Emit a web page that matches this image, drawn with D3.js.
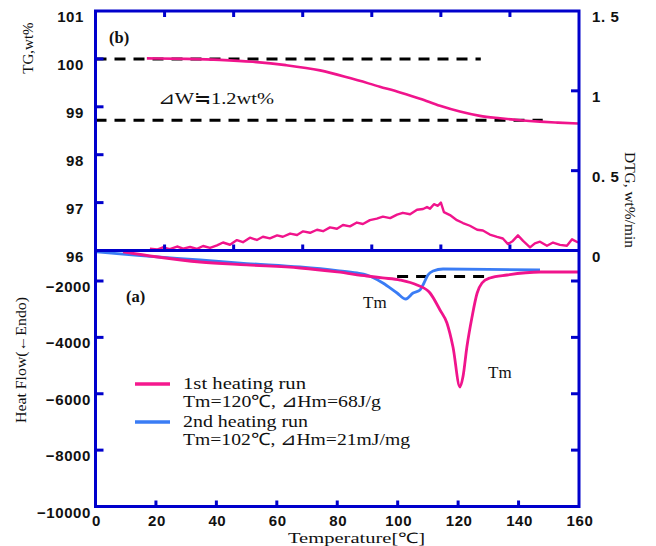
<!DOCTYPE html>
<html>
<head>
<meta charset="utf-8">
<script src="https://cdn.jsdelivr.net/npm/d3@7"></script>
<style>
  body { margin: 0; background: #fff; }
  .tick-label { font-family: "Liberation Sans", Arial, sans-serif; font-weight: bold; font-size: 15px; letter-spacing: 0.6px; fill: #111; }
  .serif { font-family: "Liberation Serif", "Times New Roman", serif; fill: #111; }
</style>
</head>
<body>
<div id="vis"></div>
<script>
// ---- data (temperature in degC on the shared bottom scale) ----
const tgTemp = [17, 30, 41.2, 52.1, 63, 74.3, 84.2, 94.1, 100.8, 107.4, 114.0, 120.6, 127.2, 133.9, 140.5, 147.1, 153, 159.7];
const tgValue = [100.01, 100.0, 99.98, 99.94, 99.87, 99.76, 99.60, 99.42, 99.30, 99.17, 99.02, 98.90, 98.81, 98.76, 98.72, 98.69, 98.67, 98.65];

const dtgTemp = [18.0, 20.4, 22.3, 24.6, 27.0, 29.0, 31.3, 33.6, 35.6, 37.9, 40.2, 42.2, 44.5, 46.8, 48.8, 51.1, 53.4, 55.4, 57.7, 60.1,
  62.0, 64.4, 66.7, 68.7, 71.0, 73.3, 75.3, 77.6, 79.9, 81.9, 84.2, 86.5, 88.5, 90.8, 93.1, 95.1, 97.5, 99.8, 101.7, 104.1,
  106.4, 108.4, 109.7, 110.7, 112.0, 113.3, 114.3, 115.3, 117.3, 119.6, 121.6, 123.9, 126.3, 128.2, 130.5, 132.9, 134.8, 136.5, 138.1, 139.8,
  141.5, 143.8, 145.4, 147.1, 149.4, 151.4, 153.7, 156.0, 157.7, 159.7];
const dtgValue = [0.012, 0.006, 0.02, 0.008, 0.025, 0.012, 0.022, 0.01, 0.028, 0.016, 0.032, 0.05, 0.036, 0.065, 0.052, 0.08, 0.066, 0.086, 0.076, 0.095,
  0.086, 0.106, 0.097, 0.12, 0.111, 0.13, 0.121, 0.145, 0.136, 0.16, 0.151, 0.175, 0.166, 0.19, 0.2, 0.212, 0.203, 0.225, 0.236, 0.227,
  0.255, 0.26, 0.272, 0.262, 0.29, 0.28, 0.30, 0.24, 0.222, 0.19, 0.172, 0.155, 0.13, 0.125, 0.1, 0.085, 0.075, 0.04, 0.06, 0.095,
  0.06, 0.02, 0.045, 0.055, 0.03, 0.05, 0.035, 0.03, 0.07, 0.05];

const hf1Temp = [9.1, 20, 34.6, 50, 67.7, 80, 89.8, 95, 100.8, 106.4, 110.7, 114.0, 116.3, 118.3, 120.6, 121.6, 122.9, 124.6, 126.3, 127.9, 130.5, 136.2, 147.1, 160];
const hf1Value = [-970, -1140, -1326, -1430, -1539, -1680, -1823, -1890, -1965, -2142, -2426, -3028, -3490, -4340, -5760, -5400, -4340, -3277, -2426, -2071, -1894, -1787, -1681, -1681];

const hf2Temp = [0.5, 15, 34.6, 50, 67.7, 80, 86.5, 89.8, 95.1, 99.8, 102.7, 105.1, 107.4, 108.7, 110.0, 111.7, 115.0, 130, 147.1];
const hf2Value = [-970, -1100, -1255, -1380, -1504, -1630, -1716, -1787, -2071, -2426, -2638, -2426, -2319, -2071, -1787, -1645, -1574, -1585, -1610];

const tgGuides = [{ y: 100.0, x1: 0, x2: 127.5 }, { y: 98.72, x1: 0, x2: 148 }];
const hfGuide = { y: -1840, x1: 99.8, x2: 128.9 };

const xTicks = [0, 20, 40, 60, 80, 100, 120, 140, 160];
const tgTicks = [96, 97, 98, 99, 100, 101];
const dtgTicks = [0, 0.5, 1, 1.5];
const dtgTickText = ["0", "0. 5", "1", "1. 5"];
const hfTicks = [-10000, -8000, -6000, -4000, -2000];

const legendItems = [
  { color: "#f5198e", lines: ["1st heating run", "Tm=120\u2103, \u22BFHm=68J/g"], widths: [123, 198] },
  { color: "#3a7cf5", lines: ["2nd heating run", "Tm=102\u2103, \u22BFHm=21mJ/mg"], widths: [125, 227] }
];

// ---- layout ----
const width = 656, height = 546;
const pLeft = 95.5, pRight = 579, pTop = 11, pMid = 250.5, pBottom = 506.5;
const frameColor = "#0000cc";
const pink = "#f0148c", blue = "#3a7cf5";

const svg = d3.select("#vis").append("svg")
  .attr("width", width)
  .attr("height", height);

const x = d3.scaleLinear().domain([0, 160]).range([pLeft, pRight]);
const topTickX = d3.scaleLinear().domain([0, 140]).range([pLeft, pRight]);
const tgY = d3.scaleLinear().domain([96, 101]).range([pMid, pTop]);
const dtgY = d3.scaleLinear().domain([0, 1.5]).range([pMid, pTop]);
const hfY = d3.scaleLinear().domain([-10000, -2000]).range([pBottom, 281]);

// clip paths
const defs = svg.append("defs");
defs.append("clipPath").attr("id", "clipTop").append("rect")
  .attr("x", pLeft).attr("y", pTop).attr("width", pRight - pLeft).attr("height", pMid - pTop);
defs.append("clipPath").attr("id", "clipBot").append("rect")
  .attr("x", pLeft).attr("y", pMid).attr("width", pRight - pLeft).attr("height", pBottom - pMid);

// ---- top panel (b) ----
const gTop = svg.append("g").attr("clip-path", "url(#clipTop)");

tgGuides.forEach(g => {
  gTop.append("line")
    .attr("x1", x(g.x1)).attr("x2", x(g.x2))
    .attr("y1", tgY(g.y)).attr("y2", tgY(g.y))
    .attr("stroke", "#000").attr("stroke-width", 3)
    .attr("stroke-dasharray", "11,8");
});

const tgLine = d3.line()
  .x((d, i) => x(tgTemp[i]))
  .y(d => tgY(d))
  .curve(d3.curveMonotoneX);
gTop.append("path").datum(tgValue)
  .attr("d", tgLine)
  .attr("fill", "none").attr("stroke", pink).attr("stroke-width", 2.6);

const dtgLine = d3.line()
  .x((d, i) => x(dtgTemp[i]))
  .y(d => dtgY(d));
gTop.append("path").datum(dtgValue)
  .attr("d", dtgLine)
  .attr("fill", "none").attr("stroke", pink).attr("stroke-width", 2.4)
  .attr("stroke-linejoin", "round");

// ---- bottom panel (a) ----
const gBot = svg.append("g").attr("clip-path", "url(#clipBot)");

gBot.append("line")
  .attr("x1", x(hfGuide.x1)).attr("x2", x(hfGuide.x2))
  .attr("y1", hfY(hfGuide.y)).attr("y2", hfY(hfGuide.y))
  .attr("stroke", "#000").attr("stroke-width", 3)
  .attr("stroke-dasharray", "11,8");

const hfLine = temps => d3.line()
  .x((d, i) => x(temps[i]))
  .y(d => hfY(d))
  .curve(d3.curveMonotoneX);

gBot.append("path").datum(hf2Value)
  .attr("d", hfLine(hf2Temp))
  .attr("fill", "none").attr("stroke", blue).attr("stroke-width", 2.8);
gBot.append("path").datum(hf1Value)
  .attr("d", hfLine(hf1Temp))
  .attr("fill", "none").attr("stroke", pink).attr("stroke-width", 2.8);

// ---- ticks ----
const tickLen = 6;
const ticks = svg.append("g").attr("stroke", frameColor).attr("stroke-width", 3);

// top panel x ticks (top edge pointing down, divider pointing up)
[20, 40, 60, 80, 100, 120].forEach(t => {
  ticks.append("line").attr("x1", topTickX(t)).attr("x2", topTickX(t)).attr("y1", pTop).attr("y2", pTop + tickLen);
  ticks.append("line").attr("x1", topTickX(t)).attr("x2", topTickX(t)).attr("y1", pMid).attr("y2", pMid - tickLen);
});
// bottom x ticks
xTicks.slice(1, -1).forEach(t => {
  ticks.append("line").attr("x1", x(t)).attr("x2", x(t)).attr("y1", pBottom).attr("y2", pBottom - tickLen);
});
// TG ticks on left
[97, 98, 99, 100].forEach(t => {
  ticks.append("line").attr("x1", pLeft).attr("x2", pLeft + 8).attr("y1", tgY(t)).attr("y2", tgY(t));
});
// DTG ticks on right
[0.5, 1].forEach(t => {
  ticks.append("line").attr("x1", pRight).attr("x2", pRight - 8).attr("y1", dtgY(t)).attr("y2", dtgY(t));
});
// heat flow ticks on both sides
[-8000, -6000, -4000, -2000].forEach(t => {
  ticks.append("line").attr("x1", pLeft).attr("x2", pLeft + 8).attr("y1", hfY(t)).attr("y2", hfY(t));
  ticks.append("line").attr("x1", pRight).attr("x2", pRight - 8).attr("y1", hfY(t)).attr("y2", hfY(t));
});

// ---- frames ----
svg.append("rect")
  .attr("x", pLeft).attr("y", pTop).attr("width", pRight - pLeft).attr("height", pBottom - pTop)
  .attr("fill", "none").attr("stroke", frameColor).attr("stroke-width", 3);
svg.append("line")
  .attr("x1", pLeft).attr("x2", pRight).attr("y1", pMid).attr("y2", pMid)
  .attr("stroke", frameColor).attr("stroke-width", 3);

// ---- tick labels ----
const labels = svg.append("g");
xTicks.forEach(t => {
  labels.append("text").attr("class", "tick-label")
    .attr("x", x(t) + 1).attr("y", 526)
    .attr("text-anchor", "middle").text(t);
});
tgTicks.forEach(t => {
  labels.append("text").attr("class", "tick-label")
    .attr("x", 84).attr("y", tgY(t) + 11)
    .attr("text-anchor", "end").text(t);
});
dtgTicks.forEach((t, i) => {
  labels.append("text").attr("class", "tick-label")
    .attr("x", 592).attr("y", dtgY(t) + 11)
    .attr("text-anchor", "start").text(dtgTickText[i]);
});
hfTicks.forEach(t => {
  labels.append("text").attr("class", "tick-label")
    .attr("x", 91).attr("y", hfY(t) + 11)
    .attr("text-anchor", "end").text(String(t).replace("-", "\u2212"));
});

// ---- axis titles ----
svg.append("text").attr("class", "serif")
  .attr("transform", "translate(33,48) rotate(-90)")
  .attr("text-anchor", "middle").attr("font-size", 15)
  .text("TG,wt%");
svg.append("text").attr("class", "serif")
  .attr("transform", "translate(625,200) rotate(90)")
  .attr("text-anchor", "middle").attr("font-size", 15)
  .attr("textLength", 96).attr("lengthAdjust", "spacingAndGlyphs")
  .text("DTG, wt%/min");
svg.append("text").attr("class", "serif")
  .attr("transform", "translate(26,360) rotate(-90)")
  .attr("text-anchor", "middle").attr("font-size", 15)
  .attr("textLength", 126).attr("lengthAdjust", "spacingAndGlyphs")
  .text("Heat Flow(\u2190Endo)");
svg.append("text").attr("class", "serif")
  .attr("x", 288).attr("y", 543).attr("font-size", 14.5)
  .attr("textLength", 137).attr("lengthAdjust", "spacingAndGlyphs")
  .text("Temperature[\u2103]");

// ---- annotations ----
svg.append("text").attr("class", "serif")
  .attr("x", 109).attr("y", 43).attr("font-size", 16.5).attr("font-weight", "bold")
  .text("(b)");
svg.append("text").attr("class", "serif")
  .attr("x", 126).attr("y", 302).attr("font-size", 16.5).attr("font-weight", "bold")
  .text("(a)");
svg.append("text").attr("class", "serif")
  .attr("x", 158).attr("y", 104).attr("font-size", 17)
  .attr("textLength", 116).attr("lengthAdjust", "spacingAndGlyphs")
  .text("\u22BFW\u22521.2wt%");
svg.append("text").attr("class", "serif")
  .attr("x", 363).attr("y", 308).attr("font-size", 17)
  .text("Tm");
svg.append("text").attr("class", "serif")
  .attr("x", 488).attr("y", 378).attr("font-size", 17)
  .text("Tm");

// ---- legend ----
const legend = svg.append("g");
legendItems.forEach((item, i) => {
  const y0 = 384 + i * 38;
  legend.append("line")
    .attr("x1", 135).attr("x2", 170).attr("y1", y0).attr("y2", y0)
    .attr("stroke", item.color).attr("stroke-width", 3.5);
  item.lines.forEach((s, j) => {
    legend.append("text").attr("class", "serif")
      .attr("x", 183).attr("y", y0 + 5 + j * 18).attr("font-size", 17)
      .attr("textLength", item.widths[j]).attr("lengthAdjust", "spacingAndGlyphs")
      .text(s);
  });
});
</script>
</body>
</html>
